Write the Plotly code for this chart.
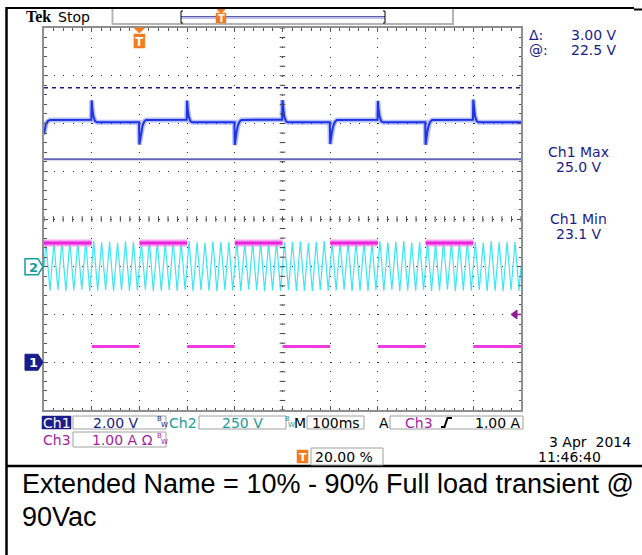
import plotly.graph_objects as go

# ---------------- scope settings / data ----------------
time_range_ms = [-200, 800]          # 100 ms/div, 10 div, trigger at 20 %
trigger_time_ms = 0
trigger_pct = 20.00
time_per_div_label = "100ms"

ch1_volts_per_div = 2.0
ch1_offset_v = 14.0
ch1_position_div = -3.0
ch2_volts_per_div = 250.0
ch2_position_div = -1.0
ch3_amps_per_div = 1.0
ch3_position_div = -3.0
trigger_level_a = 1.00
cursor_levels_v = [25.5, 22.5]        # dashed cursor, solid cursor

# Ch3: load current (A) - square steps 10 % <-> 90 % load
ch3_edges_ms = [-200, -100, 0, 100, 200, 300, 400, 500, 600, 700, 800]
ch3_levels_a = [2.50, 0.33, 2.50, 0.33, 2.50, 0.33, 2.50, 0.33, 2.50, 0.33]

# Ch1: output voltage key points (ms, V)
ch1_t_ms = [
    -200, -198.5, -196, -192, -187,
    -100.8, -100, -98.8, -96.5, -93, -89,
    -0.8, 0, 1.2, 3.5, 6.5, 10, 14,
    99.2, 100, 101.2, 103.5, 107, 111,
    199.2, 200, 201.2, 203.5, 206.5, 210, 214,
    299.2, 300, 301.2, 303.5, 307, 311,
    399.2, 400, 401.2, 403.5, 406.5, 410, 414,
    499.2, 500, 501.2, 503.5, 507, 511,
    599.2, 600, 601.2, 603.5, 606.5, 610, 614,
    699.2, 700, 701.2, 703.5, 707, 711,
    800]
ch1_v = [
    23.55, 23.80, 23.98, 24.10, 24.15,
    24.16, 24.97, 24.62, 24.30, 24.10, 24.05,
    24.05, 23.12, 23.30, 23.62, 23.90, 24.08, 24.15,
    24.16, 24.96, 24.60, 24.28, 24.09, 24.05,
    24.05, 23.10, 23.32, 23.64, 23.91, 24.08, 24.15,
    24.16, 24.98, 24.63, 24.30, 24.10, 24.05,
    24.05, 23.14, 23.31, 23.63, 23.90, 24.07, 24.15,
    24.16, 24.95, 24.61, 24.29, 24.09, 24.05,
    24.05, 23.11, 23.33, 23.65, 23.92, 24.08, 24.15,
    24.16, 25.00, 24.64, 24.31, 24.10, 24.05,
    24.05]

# Ch2: 90 Vac, 60 Hz input - crest values of each cycle (V)
line_freq_hz = 60
ch2_peak_v = [131, 127, 133, 129, 125, 132, 134, 128, 130, 126,
              133, 131, 127, 135, 129, 124, 132, 130, 134, 128,
              126, 133, 131, 129, 135, 127, 130, 132, 125, 134,
              128, 131, 133, 126, 130, 135, 129, 127, 132, 134,
              130, 126, 133, 128, 131, 135, 127, 129, 132, 125,
              134, 130, 128, 133, 131, 126, 135, 129, 132, 130]
ch2_trough_v = [-126, -122, -128, -124, -120, -127, -125, -121, -128, -123,
                -127, -124, -120, -128, -125, -122, -127, -123, -128, -121,
                -125, -128, -122, -126, -127, -120, -124, -128, -123, -126,
                -121, -127, -125, -128, -122, -126, -124, -120, -128, -125,
                -127, -123, -126, -121, -128, -124, -126, -122, -127, -125,
                -120, -128, -124, -126, -122, -127, -125, -128, -123, -126]

date_text = "3 Apr  2014"
time_text = "11:46:40"
caption_lines = ["Extended Name = 10% - 90% Full load transient @", "90Vac"]

# ---------------- conversions through the scope's vertical settings ----------------
def ch1_div(v):
    return ch1_position_div + (v - ch1_offset_v) / ch1_volts_per_div

def ch2_div(v):
    return ch2_position_div + v / ch2_volts_per_div

def ch3_div(a):
    return ch3_position_div + a / ch3_amps_per_div

# ---------------- page geometry ----------------
W, H = 642, 555
X0, X1, Y0, Y1 = 44, 521, 28, 410

def px(x):
    return (x - X0) / (X1 - X0)

def py(y):
    return (Y1 - y) / (Y1 - Y0)

def t_to_px(t):
    return X0 + (t - time_range_ms[0]) / (time_range_ms[1] - time_range_ms[0]) * (X1 - X0)

def div_to_py(d):
    return Y0 + (4 - d) / 8 * (Y1 - Y0)

NAVY = "#1b1b8a"
TEAL = "#1a9c9c"
PURPLE = "#a21fa2"
ORANGE = "#f47b20"
FONT = "DejaVu Sans"

fig = go.Figure()

# ----- Ch2 (cyan) -----
half = 1000.0 / line_freq_hz / 2
c2_t = [time_range_ms[0]]
c2_y = [ch2_div(0)]
for k in range(len(ch2_peak_v)):
    c2_t.append(time_range_ms[0] + half * (2 * k) + half / 2)
    c2_y.append(ch2_div(ch2_peak_v[k]))
    c2_t.append(time_range_ms[0] + half * (2 * k + 1) + half / 2)
    c2_y.append(ch2_div(ch2_trough_v[k]))
c2_t.append(time_range_ms[1])
c2_y.append(ch2_div(0))
fig.add_trace(go.Scatter(x=c2_t, y=c2_y, mode="lines",
                         line=dict(color="#3fe4f3", width=1.2), hoverinfo="skip"))

# ----- Ch1 (blue) -----
c1_y = [ch1_div(v) for v in ch1_v]
fig.add_trace(go.Scatter(x=ch1_t_ms, y=c1_y, mode="lines",
                         line=dict(color="rgba(90,110,255,0.45)", width=5), hoverinfo="skip"))
fig.add_trace(go.Scatter(x=ch1_t_ms, y=c1_y, mode="lines",
                         line=dict(color="#1f33e6", width=2), hoverinfo="skip"))

# ----- Ch3 (magenta) -----
hi_t, hi_y, lo_t, lo_y = [], [], [], []
for i, a in enumerate(ch3_levels_a):
    seg_t = [ch3_edges_ms[i], ch3_edges_ms[i + 1], None]
    seg_y = [ch3_div(a), ch3_div(a), None]
    if a > trigger_level_a:
        hi_t += seg_t; hi_y += seg_y
    else:
        lo_t += seg_t; lo_y += seg_y
fig.add_trace(go.Scatter(x=hi_t, y=hi_y, mode="lines", connectgaps=False,
                         line=dict(color="rgba(245,120,235,0.7)", width=7), hoverinfo="skip"))
fig.add_trace(go.Scatter(x=hi_t, y=hi_y, mode="lines", connectgaps=False,
                         line=dict(color="#ee22dc", width=3), hoverinfo="skip"))
fig.add_trace(go.Scatter(x=lo_t, y=lo_y, mode="lines", connectgaps=False,
                         line=dict(color="#f03ae2", width=3), hoverinfo="skip"))

# ----- centre cross tick marks -----
tick_t = list(range(time_range_ms[0], time_range_ms[1] + 1, 20))
fig.add_trace(go.Scatter(x=tick_t, y=[0] * len(tick_t), mode="markers",
                         marker=dict(symbol="line-ns-open", size=4, color="#444",
                                     line=dict(color="#444", width=1)), hoverinfo="skip"))
tick_d = [i / 5 - 4 for i in range(41)]
mid_t = (time_range_ms[0] + time_range_ms[1]) / 2
fig.add_trace(go.Scatter(x=[mid_t] * len(tick_d), y=tick_d, mode="markers",
                         marker=dict(symbol="line-ew-open", size=4, color="#444",
                                     line=dict(color="#444", width=1)), hoverinfo="skip"))

shapes = []
ann = []

def line(x0, y0, x1, y1, color, width=1, dash="solid"):
    shapes.append(dict(type="line", xref="paper", yref="paper", x0=px(x0), y0=py(y0),
                       x1=px(x1), y1=py(y1), line=dict(color=color, width=width, dash=dash)))

def rect(x0, y0, x1, y1, fill="white", color="#a0a0a0", width=1):
    shapes.append(dict(type="rect", xref="paper", yref="paper", x0=px(x0), y0=py(y0),
                       x1=px(x1), y1=py(y1), fillcolor=fill,
                       line=dict(color=color, width=width)))

def path(points, fill, color, width=1):
    d = "M " + " L ".join(f"{px(x):.5f},{py(y):.5f}" for x, y in points) + " Z"
    shapes.append(dict(type="path", xref="paper", yref="paper", path=d, fillcolor=fill,
                       line=dict(color=color, width=width)))

def text(x, y, s, color="#000", size=14, xa="left", family=FONT):
    ann.append(dict(x=px(x), y=py(y), xref="paper", yref="paper", text=s, showarrow=False,
                    xanchor=xa, yanchor="middle", borderpad=0,
                    font=dict(family=family, size=size, color=color)))

# cursors
for lvl, dash, col, w in [(cursor_levels_v[0], "4px,4px", "#1a1a80", 1.5),
                          (cursor_levels_v[1], "solid", "#6464bd", 2)]:
    shapes.append(dict(type="line", xref="paper", yref="y", x0=0, x1=1,
                       y0=ch1_div(lvl), y1=ch1_div(lvl), line=dict(color=col, width=w, dash=dash)))

# outer frame
line(6, 8, 634, 8, "#000", 2)
line(634, 9.5, 642, 9.5, "#000", 2)
line(6.5, 7, 6.5, 555, "#000", 2.5)
line(6, 466, 642, 466, "#000", 2.5)

# header
text(25, 17, "<b>Tek</b>", "#000", 16, family="Liberation Serif")
text(57, 17, "Stop", "#000", 14)
line(112.5, 9, 112.5, 24.5, "#b4b4b4", 2)
line(453, 9, 453, 24.5, "#b4b4b4", 2)
line(112, 24, 454, 24, "#b4b4b4", 2)
line(181, 16.5, 385, 16.5, "#5a5aa8", 1)
line(181, 18, 385, 18, "#a8a8e0", 1.5)
line(181, 11, 181, 23, "#000", 1)
line(181, 11, 183, 11, "#000", 1)
line(181, 23, 183, 23, "#000", 1)
line(385, 11, 385, 23, "#000", 1)
line(383, 11, 385, 11, "#000", 1)
line(383, 23, 385, 23, "#000", 1)
rec_x = 221
path([(rec_x - 4, 9.5), (rec_x + 4, 9.5), (rec_x, 13)], ORANGE, ORANGE)
rect(rec_x - 5, 13, rec_x + 5, 23, ORANGE, ORANGE, 0.5)
text(rec_x, 18.5, "<b>T</b>", "white", 10, "center")

# trigger marker on the graticule
tx = t_to_px(trigger_time_ms)
path([(tx - 5, 28), (tx + 5, 28), (tx, 33)], ORANGE, ORANGE)
rect(tx - 5.5, 34, tx + 5.5, 48, ORANGE, ORANGE, 0.5)
text(tx, 41.5, "<b>T</b>", "white", 12, "center")

# channel ground markers
y2 = div_to_py(ch2_position_div)
path([(25, y2 - 8), (38, y2 - 8), (43, y2), (38, y2 + 8), (25, y2 + 8)], "white", TEAL, 1.5)
text(27.5, y2 + 0.5, "<b>2</b>", TEAL, 13)
y1 = div_to_py(ch1_position_div)
path([(25, y1 - 8), (38, y1 - 8), (43, y1), (38, y1 + 8), (25, y1 + 8)], NAVY, NAVY, 1)
text(28, y1 + 0.5, "<b>1</b>", "white", 13)

# trigger level marker (right edge)
yt = div_to_py(ch3_div(trigger_level_a))
path([(511, yt), (517, yt - 4.5), (517, yt + 4.5)], "#8e1e8e", "#8e1e8e")
line(516, yt, 521, yt, "#8e1e8e", 1.5)

# right-hand readouts
delta = cursor_levels_v[0] - cursor_levels_v[1]
text(528, 35, "Δ:", NAVY, 14)
text(618, 35, f"{delta:.2f} V", NAVY, 14, "right")
text(528, 50, "@:", NAVY, 14)
text(618, 50, f"{cursor_levels_v[1]:.1f} V", NAVY, 14, "right")
text(578, 152, "Ch1 Max", NAVY, 14, "center")
text(579, 167, f"{max(ch1_v):.1f} V", NAVY, 14, "center")
text(578, 219, "Ch1 Min", NAVY, 14, "center")
text(579, 234, f"{min(ch1_v):.1f} V", NAVY, 14, "center")

# status bar row 1
r1 = 422.5
rect(42, 416, 71, 429, NAVY, NAVY, 0.5)
text(56.5, r1, "Ch1", "white", 14, "center")
rect(73, 416, 166, 429)
text(115.5, r1, f"{ch1_volts_per_div:.2f} V", NAVY, 14, "center")
text(155.5, 419, "B", NAVY, 7)
text(159.5, 425, "W", NAVY, 7)
text(182.5, r1, "Ch2", TEAL, 14, "center")
rect(199, 416, 286, 429)
text(242, r1, f"{ch2_volts_per_div:.0f} V", TEAL, 14, "center")
text(283.5, 419, "B", TEAL, 7)
text(287, 425, "W", TEAL, 7)
text(300, r1, "M", "#000", 14, "center")
rect(307, 416, 364, 429)
text(336, r1, time_per_div_label, "#000", 14, "center")
text(383.5, r1, "A", "#000", 14, "center")
rect(390, 416, 523, 429)
text(418.5, r1, "Ch3", PURPLE, 14, "center")
shapes.append(dict(type="path", xref="paper", yref="paper",
                   path=(f"M {px(441):.5f},{py(427):.5f} L {px(444.5):.5f},{py(427):.5f} "
                         f"L {px(447.5):.5f},{py(418):.5f} L {px(452):.5f},{py(418):.5f}"),
                   line=dict(color="#000", width=2)))
text(522, r1, f"{trigger_level_a:.2f} A", "#000", 14, "right")

# status bar row 2
r2 = 439.5
text(56.5, r2, "Ch3", PURPLE, 14, "center")
rect(73, 432, 166, 447)
text(91, r2, f"{ch3_amps_per_div:.2f} A Ω", PURPLE, 14)
text(155.5, 436, "B", PURPLE, 7)
text(159.5, 442, "W", PURPLE, 7)

# status row 3 / date
r3 = 456.5
rect(297, 450, 308, 463, ORANGE, ORANGE, 0.5)
text(302.5, 457, "<b>T</b>", "white", 11, "center")
rect(311, 448, 383, 465)
text(314, r3, f"{trigger_pct:.2f} %", "#000", 14)
text(632, 441.5, date_text, "#000", 14, "right")
text(602, 456.5, time_text, "#000", 14, "right")

# caption
text(21, 484, caption_lines[0], "#000", 27, family="Liberation Sans")
text(21, 517, caption_lines[1], "#000", 27, family="Liberation Sans")

axis_common = dict(showgrid=True, gridcolor="#333333", gridwidth=1, zeroline=False,
                   showline=True, linecolor="#8f8f8f", linewidth=2, mirror="ticks",
                   ticks="inside", ticklen=4, tickwidth=1, tickcolor="#555555",
                   showticklabels=False, fixedrange=True)

fig.update_layout(
    width=W, height=H, autosize=False,
    margin=dict(l=X0, r=W - X1, t=Y0, b=H - Y1, pad=0),
    paper_bgcolor="white", plot_bgcolor="white", showlegend=False,
    xaxis=dict(range=time_range_ms, dtick=100, tick0=time_range_ms[0],
               griddash="1px,8.54px",
               minor=dict(dtick=20, tick0=time_range_ms[0], ticks="inside", ticklen=2.5,
                          tickcolor="#555555", showgrid=False),
               **axis_common),
    yaxis=dict(range=[-4, 4], dtick=1, tick0=-4, griddash="1px,8.55px",
               minor=dict(dtick=0.2, tick0=-4, ticks="inside", ticklen=2.5,
                          tickcolor="#555555", showgrid=False),
               **axis_common),
    shapes=shapes, annotations=ann,
)

fig.write_html("out.html", config={"displayModeBar": False},
               post_script="document.body.style.margin='0';document.body.style.overflow='hidden';")
